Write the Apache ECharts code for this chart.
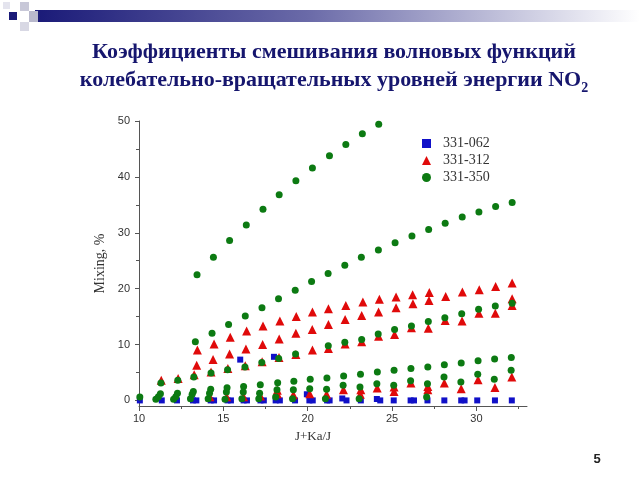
<!DOCTYPE html>
<html><head><meta charset="utf-8">
<script src="https://cdn.jsdelivr.net/npm/echarts@6/dist/echarts.min.js"></script>
<style>html,body{margin:0;padding:0;background:#fff}#c{width:640px;height:480px}</style>
</head><body><div id="c"></div>
<script>
// ---- tick labels ----
const xTickLabels = [10, 15, 20, 25, 30];
const xMinorTicks = [12.5, 17.5, 22.5, 27.5, 32.5];
const yTickLabels = [0, 10, 20, 30, 40, 50];
const yMinorTicks = [5, 15, 25, 35, 45];
const legendNames = ['331-062', '331-312', '331-350'];

// ---- 331-062 (blue squares) ----
const blueX = [10.05, 11.35, 12.25, 13.2, 13.4, 14.25, 14.45, 15.25, 15.45, 16.2, 16.4, 17.2, 17.4, 18.1, 18.35, 19.25, 20.1, 20.3, 21.15, 21.3, 22.05, 22.3, 23.15, 24.1, 24.3, 25.1, 26.1, 26.3, 27.1, 28.1, 29.1, 29.3, 30.05, 31.1, 32.1, 16.0, 18.0, 19.95];
const blueY = [0, 0, 0, 0, 0, 0, 0, 0, 0, 0, 0, 0, 0, 0, 0, 0, 0, 0, 0, 0, 0.35, 0, 0, 0.25, 0, 0, 0, 0, 0, 0, 0, 0, 0, 0, 0, 7.3, 7.8, 1.1];

// ---- 331-312 (red triangles), several branches ----
const red1X = [13.46, 14.45, 15.41, 16.38, 17.35, 18.35, 19.32, 20.28, 21.23, 22.26, 23.27, 24.25, 25.24, 26.22, 27.21, 28.18, 29.17, 30.17, 31.14, 32.12];
const red1Y = [9.0, 10.1, 11.3, 12.4, 13.3, 14.2, 15.0, 15.8, 16.4, 17.0, 17.6, 18.1, 18.5, 18.9, 19.3, 18.6, 19.4, 19.8, 20.4, 21.0];
const red2X = [13.42, 14.39, 15.37, 16.34, 17.33, 18.31, 19.30, 20.27, 21.23, 22.22, 23.20, 24.20, 25.24, 26.24, 27.19, 32.12];
const red2Y = [6.3, 7.3, 8.3, 9.2, 10.0, 11.0, 12.0, 12.7, 13.6, 14.5, 15.2, 15.8, 16.6, 17.3, 17.9, 18.2];
const red3X = [11.32, 12.32, 13.27, 14.27, 15.27, 16.30, 17.30, 18.30, 19.30, 20.28, 21.23, 22.22, 23.20, 24.20, 25.15, 26.15, 27.15, 28.15, 29.15, 30.15, 31.12, 32.12];
const red3Y = [3.6, 3.9, 4.6, 5.1, 5.7, 6.2, 6.9, 7.7, 8.2, 9.0, 9.3, 10.1, 10.5, 11.5, 11.8, 13.0, 12.9, 14.3, 14.2, 15.6, 15.6, 17.0];
const red4X = [14.2, 15.2, 16.2, 17.2, 18.2, 19.15, 20.12, 21.12, 22.12, 23.12, 24.12, 25.12, 26.12, 27.12, 28.1, 29.1, 30.1, 31.1, 32.1, 23.15, 25.12, 27.12, 18.2];
const red4Y = [0.65, 0.65, 0.65, 0.8, 1.8, 1.0, 1.2, 1.1, 1.9, 1.1, 2.2, 1.6, 3.1, 1.9, 3.1, 2.1, 3.7, 2.3, 4.2, 1.9, 2.4, 2.5, 1.2];

// ---- 331-350 (green circles), several branches ----
const green1X = [13.44, 14.41, 15.37, 16.36, 17.35, 18.31, 19.30, 20.28, 21.29, 22.26, 23.24, 24.21];
const green1Y = [22.5, 25.6, 28.6, 31.4, 34.2, 36.8, 39.3, 41.6, 43.8, 45.8, 47.7, 49.4];
const green2X = [13.34, 14.33, 15.31, 16.30, 17.29, 18.27, 19.26, 20.23, 21.21, 22.20, 23.18, 24.19, 25.18, 26.18, 27.17, 28.15, 29.16, 30.15, 31.14, 32.12];
const green2Y = [10.5, 12.0, 13.6, 15.1, 16.6, 18.2, 19.7, 21.3, 22.7, 24.2, 25.6, 26.9, 28.2, 29.4, 30.6, 31.7, 32.8, 33.7, 34.7, 35.4];
const green3X = [11.30, 12.30, 13.25, 14.27, 15.25, 16.28, 17.28, 18.28, 19.28, 21.22, 22.20, 23.20, 24.18, 25.15, 26.15, 27.15, 28.13, 29.13, 30.13, 31.12, 32.12];
const green3Y = [3.1, 3.6, 4.2, 4.9, 5.5, 6.0, 6.8, 7.5, 8.3, 9.8, 10.4, 10.9, 11.9, 12.7, 13.3, 14.1, 14.8, 15.5, 16.3, 16.9, 17.4];
const green4X = [11.27, 12.28, 13.22, 14.25, 15.22, 16.20, 17.19, 18.22, 19.18, 20.15, 21.14, 22.13, 23.13, 24.13, 25.12, 26.12, 27.12, 28.10, 29.10, 30.10, 31.08, 32.07];
const green4Y = [1.2, 1.3, 1.6, 2.0, 2.25, 2.5, 2.8, 3.15, 3.45, 3.8, 4.0, 4.35, 4.7, 5.1, 5.4, 5.7, 6.0, 6.4, 6.7, 7.1, 7.4, 7.7];
const green5X = [11.15, 12.18, 13.15, 14.18, 15.18, 16.18, 17.15, 18.18, 19.15, 20.12, 21.12, 22.10, 23.10, 24.10, 25.10, 26.10, 27.10, 28.08, 29.08, 30.08, 31.06, 32.06];
const green5Y = [0.65, 0.65, 1.1, 1.3, 1.5, 1.5, 1.3, 1.9, 1.9, 2.1, 2.0, 2.7, 2.4, 3.0, 2.7, 3.5, 3.0, 4.2, 3.3, 4.7, 3.8, 5.4];
const green6X = [10.05, 11.0, 12.05, 13.05, 14.1, 15.1, 16.1, 17.1, 18.1, 19.1, 21.05, 23.05, 27.05];
const green6Y = [0.6, 0.2, 0.2, 0.3, 0.3, 0.2, 0.3, 0.3, 0.6, 0.3, 0.3, 0.3, 0.6];

function pairs(xs, ys) { return xs.map((x, i) => [x, ys[i]]); }
const blueData = pairs(blueX, blueY);
const redData = [].concat(pairs(red1X, red1Y), pairs(red2X, red2Y), pairs(red3X, red3Y), pairs(red4X, red4Y));
const greenData = [].concat(pairs(green6X, green6Y), pairs(green5X, green5Y), pairs(green4X, green4Y), pairs(green3X, green3Y), pairs(green2X, green2Y), pairs(green1X, green1Y));

const axisColor = '#555';
const chart = echarts.init(document.getElementById('c'), null, { renderer: 'canvas' });
chart.setOption({
  animation: false,
  backgroundColor: '#ffffff',
  grid: { left: 139, right: 113, top: 121, bottom: 74 },
  legend: {
    orient: 'vertical', left: 417, top: 130, itemWidth: 9, itemHeight: 9, itemGap: 0,
    data: legendNames,
    textStyle: { fontFamily: 'Liberation Serif', fontSize: 14, color: '#333', lineHeight: 17, padding: [0, 0, 0, 7] }
  },
  xAxis: [
    { type: 'value', min: 10, max: 33, position: 'bottom',
      axisLine: { show: true, onZero: false, lineStyle: { color: axisColor } },
      axisTick: { show: true, customValues: xTickLabels, length: 5, lineStyle: { color: axisColor } },
      axisLabel: { customValues: xTickLabels, fontFamily: 'Liberation Sans', fontSize: 11, color: '#333', margin: 7 },
      splitLine: { show: false } },
    { type: 'value', min: 10, max: 33, position: 'bottom',
      axisLine: { show: false, onZero: false },
      axisTick: { show: true, customValues: xMinorTicks, length: 3, lineStyle: { color: axisColor } },
      axisLabel: { show: false }, splitLine: { show: false } }
  ],
  yAxis: [
    { type: 'value', min: -1, max: 50, position: 'left',
      axisLine: { show: true, onZero: false, lineStyle: { color: axisColor } },
      axisTick: { show: true, customValues: yTickLabels, length: 4, lineStyle: { color: axisColor } },
      axisLabel: { customValues: yTickLabels, fontFamily: 'Liberation Sans', fontSize: 11, color: '#333', margin: 9 },
      splitLine: { show: false },
      name: 'Mixing, %', nameLocation: 'middle', nameGap: 26, nameRotate: 90,
      nameTextStyle: { fontFamily: 'Liberation Serif', fontSize: 14, color: '#333' } },
    { type: 'value', min: -1, max: 50, position: 'left',
      axisLine: { show: false, onZero: false },
      axisTick: { show: true, customValues: yMinorTicks, length: 3, lineStyle: { color: axisColor } },
      axisLabel: { show: false }, splitLine: { show: false } }
  ],
  series: [
    { name: legendNames[0], type: 'scatter', xAxisIndex: 0, yAxisIndex: 0, symbol: 'rect', symbolSize: 6,
      itemStyle: { color: '#1010c8', opacity: 1 }, data: blueData },
    { name: legendNames[1], type: 'scatter', xAxisIndex: 0, yAxisIndex: 0, symbol: 'triangle', symbolSize: 9,
      itemStyle: { color: '#e00a0a', opacity: 1 }, data: redData },
    { name: legendNames[2], type: 'scatter', xAxisIndex: 0, yAxisIndex: 0, symbol: 'circle', symbolSize: 7,
      itemStyle: { color: '#0c7a12', opacity: 1 }, data: greenData }
  ],
  graphic: [
    { type: 'rect', left: 35, top: 10, shape: { width: 605, height: 12 },
      style: { fill: new echarts.graphic.LinearGradient(0, 0, 1, 0, [
        { offset: 0, color: '#1a1a78' }, { offset: 0.45, color: '#6a6aa8' }, { offset: 1, color: '#ffffff' }]) } },
    { type: 'rect', left: 9, top: 12, shape: { width: 8, height: 8 }, style: { fill: '#1a1a78' } },
    { type: 'rect', left: 20, top: 2, shape: { width: 9, height: 9 }, style: { fill: '#c8c8d8' } },
    { type: 'rect', left: 29, top: 11, shape: { width: 9, height: 11 }, style: { fill: '#b8b8cc' } },
    { type: 'rect', left: 20, top: 22, shape: { width: 9, height: 9 }, style: { fill: '#d8d8e4' } },
    { type: 'rect', left: 3, top: 2, shape: { width: 7, height: 7 }, style: { fill: '#e4e4ee' } },
    { type: 'text', x: 334, y: 52,
      style: { text: 'Коэффициенты смешивания волновых функций', fontFamily: 'Liberation Serif', fontWeight: 'bold',
        fontSize: 22, fill: '#16166e', align: 'center', verticalAlign: 'middle' } },
    { type: 'text', x: 334, y: 80,
      style: { text: '{a|колебательно-вращательных уровней энергии NO}{s|2}', align: 'center', verticalAlign: 'middle',
        rich: {
          a: { fontFamily: 'Liberation Serif', fontWeight: 'bold', fontSize: 22, fill: '#16166e', color: '#16166e', lineHeight: 30, align: 'center' },
          s: { fontFamily: 'Liberation Serif', fontWeight: 'bold', fontSize: 14, fill: '#16166e', color: '#16166e', lineHeight: 10, verticalAlign: 'bottom', align: 'center' }
        } } },
    { type: 'text', x: 313, y: 437,
      style: { text: 'J+Ka/J', fontFamily: 'Liberation Serif', fontSize: 13, fill: '#333', align: 'center', verticalAlign: 'middle' } },
    { type: 'text', x: 597, y: 459,
      style: { text: '5', fontFamily: 'Liberation Sans', fontWeight: 'bold', fontSize: 13, fill: '#222', align: 'center', verticalAlign: 'middle' } }
  ]
});
</script></body></html>
